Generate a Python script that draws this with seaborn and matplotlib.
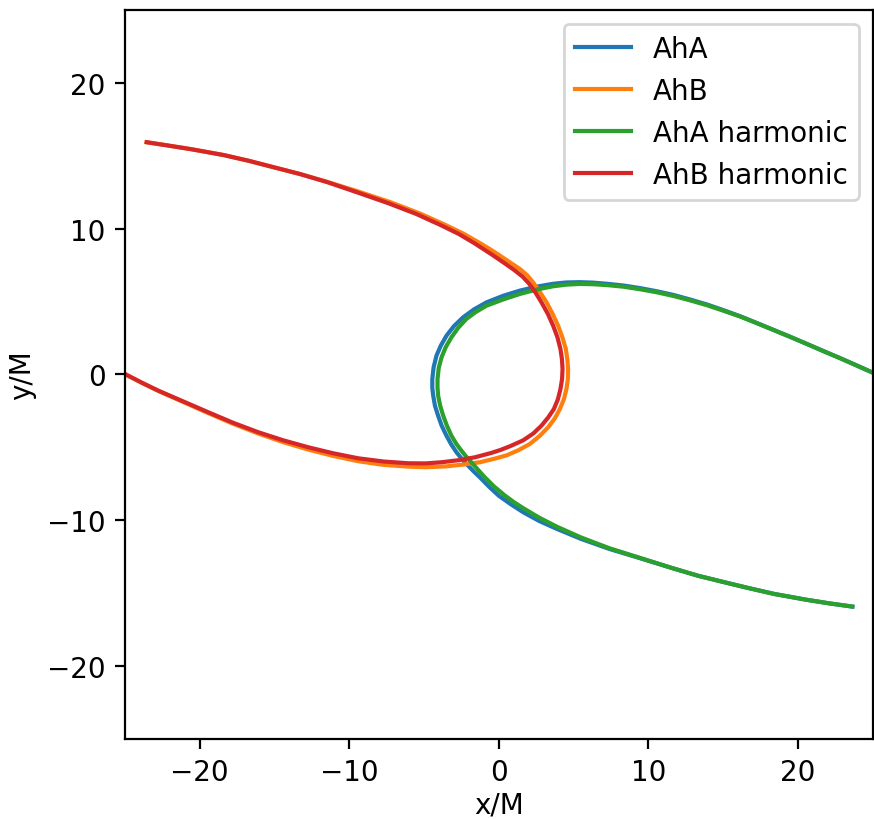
import matplotlib
matplotlib.use("Agg")
import matplotlib.pyplot as plt
import seaborn as sns
import pandas as pd

# Apparent-horizon tracks of the two black holes (units of M)
aha_x = [26.0, 24.95, 23.9, 22.84, 21.7, 20.61, 19.5, 18.38, 17.25, 16.15, 15.0, 13.92,
         12.8, 11.70, 10.6, 9.47, 8.35, 7.24, 6.3, 5.41, 4.5, 3.63, 2.5, 1.40, 0.3,
         -0.82, -1.65, -2.39, -3.0, -3.50, -3.88, -4.17, -4.36, -4.45, -4.45, -4.39,
         -4.27, -4.06, -3.82, -3.50, -3.18, -2.83, -2.45, -2.05, -1.65, -1.27, -0.65,
         0.0, 0.8, 1.63, 2.7, 3.9, 5.5, 7.4, 9.5, 11.5, 13.3, 15.08, 16.7, 18.4, 20.56,
         22.1, 23.64]
aha_y = [-0.33, 0.15, 0.63, 1.11, 1.61, 2.09, 2.58, 3.05, 3.53, 3.99, 4.42, 4.80,
         5.14, 5.45, 5.70, 5.92, 6.10, 6.22, 6.30, 6.33, 6.31, 6.22, 6.02, 5.75, 5.40,
         4.95, 4.47, 3.92, 3.32, 2.66, 1.98, 1.29, 0.50, -0.31, -0.90, -1.45,
         -2.15, -2.83, -3.52, -4.20, -4.80, -5.34, -5.82, -6.26, -6.68, -7.05, -7.70,
         -8.32, -8.90, -9.45, -10.05, -10.60, -11.28, -11.97, -12.62, -13.25, -13.8, -14.25,
         -14.65, -15.05, -15.45, -15.7, -15.92]

ahb_x = [-26.0, -25.0, -23.9, -22.77, -21.1, -19.43, -17.8, -16.09, -14.4, -12.75,
         -11.1, -9.40, -7.7, -6.06, -4.9, -3.50, -2.4, -1.27, -0.3, 0.51, 1.3, 2.07,
         2.75, 3.30, 3.75, 4.08, 4.35, 4.52, 4.62, 4.63, 4.58, 4.48, 4.25, 3.96, 3.6,
         3.19, 2.75, 2.29, 1.9, 1.40, 0.7, 0.0, -0.6, -1.25, -2.35, -3.6, -5.25, -7.2,
         -9.4, -11.5, -13.3, -15.08, -16.7, -18.4, -20.56, -22.1, -23.55]
ahb_y = [0.54, 0.03, -0.56, -1.13, -1.89, -2.65, -3.37, -4.05, -4.65, -5.15,
         -5.58, -5.95, -6.20, -6.32, -6.36, -6.30, -6.18, -6.02, -5.78, -5.55, -5.20, -4.77,
         -4.20, -3.62, -3.00, -2.37, -1.70, -1.00, -0.30, 0.38, 1.05, 1.75, 2.55, 3.35, 4.15,
         4.95, 5.65, 6.32, 6.80, 7.24, 7.72, 8.20, 8.60, 9.00, 9.65, 10.27, 11.03, 11.80,
         12.55, 13.22, 13.75, 14.22, 14.65, 15.05, 15.45, 15.7, 15.93]

aha_harm_x = [26.0, 24.95, 23.9, 22.84, 21.7, 20.61, 19.5, 18.38, 17.25, 16.15, 15.0, 13.92,
              12.8, 11.70, 10.6, 9.47, 8.35, 7.24, 6.3, 5.41, 4.5, 3.63, 2.5, 1.40, 0.3,
              -0.82, -1.55, -2.17, -2.72, -3.17, -3.55, -3.83, -4.02, -4.10, -4.10, -4.06,
              -3.92, -3.72, -3.47, -3.17, -2.85, -2.50, -2.17, -1.83, -1.38, -0.94, -0.3,
              0.4, 1.0, 1.63, 2.7, 3.9, 5.5, 7.4, 9.5, 11.5, 13.3, 15.08, 16.7, 18.4, 20.56,
              22.1, 23.64]
aha_harm_y = [-0.33, 0.15, 0.63, 1.11, 1.60, 2.09, 2.57, 3.05, 3.52, 3.97, 4.38, 4.75,
              5.08, 5.38, 5.63, 5.84, 6.02, 6.13, 6.19, 6.21, 6.16, 6.05, 5.82, 5.52, 5.15,
              4.72, 4.28, 3.81, 3.20, 2.55, 1.88, 1.18, 0.45, -0.31, -0.90, -1.45,
              -2.15, -2.83, -3.52, -4.20, -4.75, -5.23, -5.65, -6.03, -6.55, -7.05, -7.70,
              -8.30, -8.75, -9.17, -9.82, -10.45, -11.18, -11.92, -12.60, -13.25, -13.8,
              -14.25, -14.65, -15.05, -15.45, -15.7, -15.92]

ahb_harm_x = [-26.0, -25.0, -23.9, -22.77, -21.1, -19.43, -17.8, -16.09, -14.4, -12.75,
              -11.1, -9.40, -7.7, -6.06, -4.9, -3.83, -2.7, -1.60, -0.5, 0.1, 0.75, 1.62,
              2.3, 2.85, 3.3, 3.68, 3.95, 4.12, 4.23, 4.26, 4.22, 4.12, 3.92, 3.63, 3.28,
              2.85, 2.45, 2.05, 1.6, 1.05, 0.4, -0.4, -1.0, -1.63, -2.7, -3.9, -5.5, -7.4,
              -9.5, -11.5, -13.3, -15.08, -16.7, -18.4, -20.56, -22.1, -23.55]
ahb_harm_y = [0.54, 0.03, -0.55, -1.11, -1.85, -2.59, -3.30, -3.96, -4.52, -4.99,
              -5.40, -5.75, -5.97, -6.09, -6.10, -6.02, -5.88, -5.68, -5.38, -5.18, -4.92, -4.52,
              -4.05, -3.51, -2.95, -2.37, -1.70, -1.00, -0.30, 0.38, 1.05, 1.75, 2.55, 3.35, 4.15,
              4.95, 5.62, 6.20, 6.70, 7.15, 7.62, 8.18, 8.58, 9.00, 9.65, 10.25, 11.00, 11.75,
              12.50, 13.20, 13.75, 14.22, 14.65, 15.05, 15.45, 15.7, 15.93]

series = [
    ("AhA", aha_x, aha_y),
    ("AhB", ahb_x, ahb_y),
    ("AhA harmonic", aha_harm_x, aha_harm_y),
    ("AhB harmonic", ahb_harm_x, ahb_harm_y),
]
colors = sns.color_palette("tab10", 4)

fig = plt.figure(figsize=(4.37, 4.10), dpi=200)
ax = fig.add_axes([0.143, 0.0976, 0.8555, 0.889])

for (name, xs, ys), c in zip(series, colors):
    df = pd.DataFrame({"x": xs, "y": ys})
    sns.lineplot(data=df, x="x", y="y", sort=False, estimator=None,
                 color=c, linewidth=1.5, label=name, ax=ax)

ax.set_xlim(-25, 25)
ax.set_ylim(-25, 25)
ax.set_xticks([-20, -10, 0, 10, 20])
ax.set_yticks([-20, -10, 0, 10, 20])
ax.set_xlabel("x/M", labelpad=1.5)
ax.set_ylabel("y/M")
ax.legend(loc="upper right")

fig.savefig("out.png", dpi=200)
